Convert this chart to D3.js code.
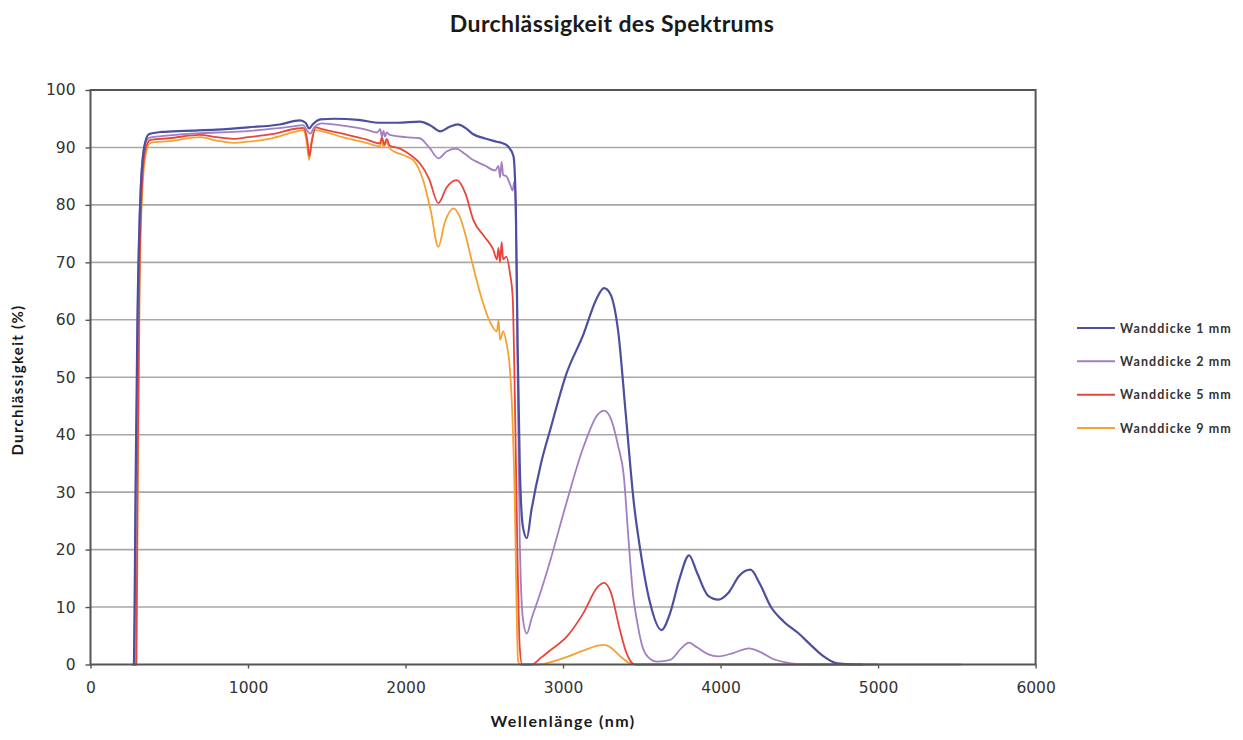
<!DOCTYPE html>
<html>
<head>
<meta charset="utf-8">
<script src="https://cdn.jsdelivr.net/npm/d3@7"></script>
<style>
  html, body { margin: 0; padding: 0; background: #ffffff; }
  svg { display: block; }
</style>
</head>
<body>
<svg id="chart" width="1243" height="740"></svg>
<script>
// ---------------- DATA ----------------
const chartTitle = "Durchlässigkeit des Spektrums";
const xTitle = "Wellenlänge (nm)";
const yTitle = "Durchlässigkeit (%)";
const xTicks = [0, 1000, 2000, 3000, 4000, 5000, 6000];
const yTicks = [0, 10, 20, 30, 40, 50, 60, 70, 80, 90, 100];
const seriesNames = ["Wanddicke 1 mm", "Wanddicke 2 mm", "Wanddicke 5 mm", "Wanddicke 9 mm"];

// [wavelength nm, transmission %]
const wand1mm = [[265,0],[276,0],[285,28],[298,60],[318,82],[342,90.2],[370,92.3],[450,92.7],[600,92.9],[800,93.1],[1000,93.5],[1200,94],[1330,94.7],[1365,94.3],[1388,93.3],[1410,94],[1460,94.9],[1550,95],[1700,94.8],[1840,94.3],[1950,94.3],[2090,94.5],[2160,93.8],[2220,92.8],[2280,93.6],[2330,94],[2380,93.4],[2430,92.3],[2500,91.6],[2580,91],[2620,90.7],[2650,90.2],[2685,88.5],[2700,80],[2712,55],[2725,35],[2745,24],[2770,22],[2800,27],[2860,35],[2920,41],[3020,50.5],[3130,57.5],[3210,63.5],[3260,65.5],[3300,64.5],[3350,58],[3400,43],[3450,28],[3490,20],[3550,11],[3625,6],[3680,9],[3740,15],[3800,19],[3850,16],[3920,12],[3985,11.3],[4050,12.5],[4120,15.5],[4190,16.5],[4250,14],[4320,10],[4400,7.5],[4500,5.3],[4580,3.2],[4650,1.5],[4740,0.2],[4850,0],[4900,0]];

const wand2mm = [[268,0],[279,0],[288,28],[300,62],[320,84],[345,90.5],[375,91.7],[500,92.1],[700,92.5],[900,92.7],[1100,93.1],[1300,93.7],[1350,93.9],[1378,92.8],[1395,92.4],[1420,93.5],[1470,94.2],[1600,93.8],[1750,93.1],[1820,92.6],[1840,93.2],[1850,91.8],[1860,92.9],[1870,91.9],[1880,92.6],[1900,92.2],[2000,91.8],[2090,91.6],[2150,90],[2210,88.1],[2260,89.3],[2320,89.8],[2380,88.8],[2430,87.8],[2500,86.9],[2570,86],[2590,86.8],[2600,84.8],[2610,87.5],[2620,85.2],[2640,85],[2665,83.5],[2680,82.5],[2690,84],[2700,78],[2712,50],[2725,22],[2745,8],[2770,5.4],[2800,8],[2850,12],[2920,18.2],[3020,28],[3130,37.9],[3220,43.5],[3260,44.2],[3300,43],[3350,38],[3385,33],[3415,22],[3445,12],[3470,7.5],[3500,3.5],[3540,1.3],[3600,0.5],[3680,0.8],[3750,2.8],[3800,3.8],[3850,3],[3920,1.8],[3985,1.4],[4080,2],[4180,2.8],[4250,2.2],[4330,1],[4450,0.2],[4550,0],[4750,0]];

const wand5mm = [[275,0],[290,0],[298,30],[310,66],[328,84],[350,89.8],[380,91.3],[500,91.6],[695,92.2],[800,91.8],[906,91.5],[1000,91.8],[1150,92.3],[1310,93.3],[1350,93.4],[1375,91.5],[1390,88.5],[1405,91],[1430,93.5],[1470,93.2],[1600,92.4],[1750,91.4],[1838,90.7],[1850,91.8],[1865,90.5],[1880,91.5],[1900,90.3],[1965,89.8],[2040,88.5],[2092,87.2],[2150,84.5],[2208,80.3],[2260,83],[2324,84.3],[2380,82],[2430,77.4],[2500,74.5],[2557,72.2],[2580,70.5],[2590,72.5],[2600,70],[2610,73.5],[2620,70.5],[2640,71],[2663,68.1],[2680,64],[2695,45],[2710,20],[2725,3],[2740,0],[2800,0],[2860,1.2],[2920,2.5],[3022,4.8],[3128,8.9],[3220,13.5],[3260,14.2],[3300,12.8],[3361,6],[3400,2.2],[3424,0.8],[3460,0],[5000,0]];

const wand9mm = [[278,0],[292,0],[300,30],[312,66],[330,83],[352,89],[380,90.8],[500,91.1],[695,91.8],[800,91.2],[906,90.8],[1000,91],[1150,91.6],[1309,92.8],[1350,93],[1372,91],[1388,87.8],[1400,90.5],[1425,93],[1470,92.8],[1600,91.8],[1750,90.8],[1838,90.2],[1850,91.5],[1860,90],[1880,91],[1900,89.8],[2000,88.5],[2049,87.8],[2112,84.3],[2160,79],[2208,72.7],[2250,77],[2303,79.4],[2340,78.2],[2366,76.2],[2430,69.2],[2480,64],[2530,60],[2580,58],[2590,60],[2600,56.5],[2620,58],[2640,56],[2663,51.3],[2680,42],[2694,28],[2705,10],[2714,0.8],[2725,0],[2850,0],[2920,0.4],[3022,1.3],[3128,2.4],[3220,3.3],[3260,3.4],[3300,3.0],[3360,1.5],[3420,0.3],[3460,0],[5530,0]];

const seriesData = [wand1mm, wand2mm, wand5mm, wand9mm];
const seriesColors = ["#4d4f9e", "#a27fc2", "#e8463c", "#f5a232"];

// ---------------- LAYOUT ----------------
const svg = d3.select("#chart");
const plot = { left: 90.5, right: 1035.6, top: 90, bottom: 664.5 };

const x = d3.scaleLinear().domain([0, 6000]).range([plot.left, plot.right]);
const y = d3.scaleLinear().domain([0, 100]).range([plot.bottom, plot.top]);

// gridlines
svg.append("g")
  .selectAll("line")
  .data(yTicks.filter(d => d > 0 && d < 100))
  .join("line")
  .attr("x1", plot.left).attr("x2", plot.right)
  .attr("y1", d => y(d)).attr("y2", d => y(d))
  .attr("stroke", "#a8a8a8").attr("stroke-width", 1.6);

// y axis
const yAxis = svg.append("g")
  .attr("transform", `translate(${plot.left},0)`)
  .call(d3.axisLeft(y).tickValues(yTicks).tickSize(5).tickPadding(10).tickFormat(d3.format("d")));
yAxis.select(".domain").remove();
yAxis.selectAll(".tick line").attr("stroke", "#555").attr("stroke-width", 1.4);
yAxis.selectAll("text").attr("fill", "#333").style("font-family", "DejaVu Sans").style("font-size", "15.5px");

// x axis
const xAxis = svg.append("g")
  .attr("transform", `translate(0,${plot.bottom})`)
  .call(d3.axisBottom(x).tickValues(xTicks).tickSize(4).tickPadding(13).tickFormat(d3.format("d")));
xAxis.select(".domain").remove();
xAxis.selectAll(".tick line").attr("stroke", "#555").attr("stroke-width", 1.4);
xAxis.selectAll("text").attr("fill", "#333").style("font-family", "DejaVu Sans").style("font-size", "15.5px");

// lines
const line = d3.line()
  .x(d => x(d[0]))
  .y(d => y(d[1]))
  .curve(d3.curveMonotoneX);

const drawOrder = [3, 2, 1, 0];
svg.append("g")
  .selectAll("path")
  .data(drawOrder)
  .join("path")
  .attr("d", i => line(seriesData[i]))
  .attr("fill", "none")
  .attr("stroke", i => seriesColors[i])
  .attr("stroke-width", i => i === 0 ? 2.2 : 1.8)
  .attr("stroke-linejoin", "round");

// plot frame
svg.append("rect")
  .attr("x", plot.left).attr("y", plot.top)
  .attr("width", plot.right - plot.left).attr("height", plot.bottom - plot.top)
  .attr("fill", "none").attr("stroke", "#555").attr("stroke-width", 2);

// title
svg.append("text")
  .attr("x", 612).attr("y", 32)
  .attr("text-anchor", "middle")
  .style("font-family", "Lato").style("font-weight", "bold").style("font-size", "23px")
  .style("letter-spacing", "0.4px")
  .attr("fill", "#1a1a1a")
  .text(chartTitle);

// axis titles
svg.append("text")
  .attr("x", 563).attr("y", 727)
  .attr("text-anchor", "middle")
  .style("font-family", "Lato").style("font-weight", "bold").style("font-size", "16px")
  .style("letter-spacing", "1.4px")
  .attr("fill", "#1a1a1a")
  .text(xTitle);

svg.append("text")
  .attr("transform", "translate(23,380) rotate(-90)")
  .attr("text-anchor", "middle")
  .style("font-family", "Lato").style("font-weight", "bold").style("font-size", "15px")
  .style("letter-spacing", "1.3px")
  .attr("fill", "#1a1a1a")
  .text(yTitle);

// legend
const legend = svg.append("g");
const legendY = d3.scalePoint().domain(d3.range(seriesNames.length)).range([328, 428]);
const lg = legend.selectAll("g").data(d3.range(seriesNames.length)).join("g")
  .attr("transform", i => `translate(1077,${legendY(i)})`);
lg.append("line").attr("x1", 0).attr("x2", 38).attr("y1", 0).attr("y2", 0)
  .attr("stroke", i => seriesColors[i]).attr("stroke-width", 2);
lg.append("text").attr("x", 43).attr("y", 4.5)
  .style("font-family", "Lato").style("font-weight", "bold").style("font-size", "12.5px")
  .style("letter-spacing", "1.1px")
  .attr("fill", "#333")
  .text(i => seriesNames[i]);
</script>
</body>
</html>
